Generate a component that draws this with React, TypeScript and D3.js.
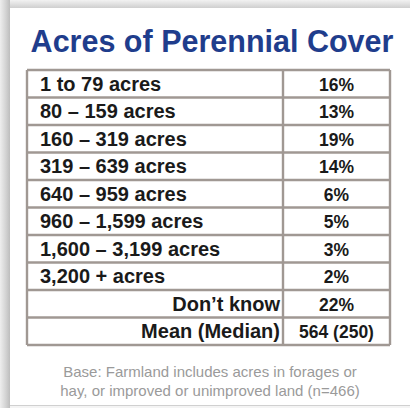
import React from "react";
import * as d3 from "d3";

const title = "Acres of Perennial Cover";
const categories = [
  "1 to 79 acres",
  "80 – 159 acres",
  "160 – 319 acres",
  "319 – 639 acres",
  "640 – 959 acres",
  "960 – 1,599 acres",
  "1,600 – 3,199 acres",
  "3,200 + acres",
  "Don’t know",
  "Mean (Median)",
];
const values = ["16%", "13%", "19%", "14%", "6%", "5%", "3%", "2%", "22%", "564 (250)"];
const rightAligned = [false, false, false, false, false, false, false, false, true, true];
const footnote = [
  "Base: Farmland includes acres in forages or",
  "hay, or improved or unimproved land (n=466)",
];

const W = 410;
const H = 408;

export default function App() {
  const tLeft = 27;
  const tRight = 390;
  const tDiv = 283;
  const tTop = 70;
  const tBottom = 345;
  const y = d3
    .scaleBand<number>()
    .domain(d3.range(categories.length))
    .range([tTop, tBottom]);
  const lineColor = "#a09893";
  return (
    <svg
      width={W}
      height={H}
      style={{ position: "absolute", left: 0, top: 0 }}
      fontFamily="'Liberation Sans', Arial, sans-serif"
    >
      <defs>
        <linearGradient id="lsh" x1="0" x2="1" y1="0" y2="0">
          <stop offset="0" stopColor="#eeeeee" />
          <stop offset="0.6" stopColor="#d2d2d2" />
          <stop offset="1" stopColor="#bdbdbd" />
        </linearGradient>
        <linearGradient id="tsh" x1="0" x2="0" y1="0" y2="1">
          <stop offset="0" stopColor="#f2f2f2" />
          <stop offset="1" stopColor="#cfcfcf" />
        </linearGradient>
      </defs>
      <rect x={0} y={0} width={W} height={H} fill="#f4f4f4" />
      <rect x={0} y={0} width={W} height={8} fill="url(#tsh)" />
      <rect x={0} y={0} width={10} height={H} fill="url(#lsh)" />
      <rect x={10} y={8} width={W - 10} height={397} fill="#ffffff" />
      <line x1={10} x2={W} y1={405.5} y2={405.5} stroke="#d0d0d0" strokeWidth={1} />

      <text
        x={212}
        y={52}
        textAnchor="middle"
        fontSize={30.5}
        fontWeight="bold"
        fill="#1f3d8c"
      >
        {title}
      </text>

      <g>
        {categories.map((c, i) => {
          const yy = y(i)!;
          const base = yy + y.bandwidth() / 2 + 7;
          return (
            <g key={i}>
              <text
                x={rightAligned[i] ? tDiv - 3 : tLeft + 13}
                y={base}
                textAnchor={rightAligned[i] ? "end" : "start"}
                fontSize={20}
                fontWeight="bold"
                fill="#1a1a1a"
              >
                {c}
              </text>
              <text
                x={(tDiv + tRight) / 2}
                y={base}
                textAnchor="middle"
                fontSize={17.5}
                fontWeight="bold"
                fill="#1a1a1a"
              >
                {values[i]}
              </text>
            </g>
          );
        })}
        {d3.range(categories.length + 1).map((i) => {
          const yy = i === categories.length ? tBottom : y(i)!;
          return (
            <line
              key={"h" + i}
              x1={tLeft}
              x2={tRight}
              y1={yy}
              y2={yy}
              stroke={lineColor}
              strokeWidth={2.4}
            />
          );
        })}
        <line x1={tLeft} x2={tLeft} y1={tTop} y2={tBottom} stroke={lineColor} strokeWidth={2.4} />
        <line x1={tDiv} x2={tDiv} y1={tTop} y2={tBottom} stroke={lineColor} strokeWidth={2.4} />
        <line x1={tRight} x2={tRight} y1={tTop} y2={tBottom} stroke={lineColor} strokeWidth={2.4} />
      </g>

      {footnote.map((f, i) => (
        <text
          key={i}
          x={210}
          y={377 + i * 19}
          textAnchor="middle"
          fontSize={15}
          fill="#9a9a9a"
        >
          {f}
        </text>
      ))}
    </svg>
  );
}
